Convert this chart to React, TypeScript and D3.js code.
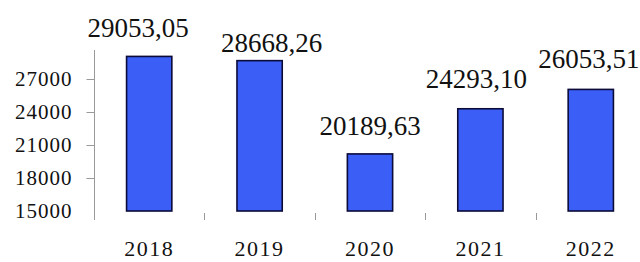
import React, { useEffect, useRef } from "react";
import * as d3 from "d3";

const years = ["2018", "2019", "2020", "2021", "2022"];
const values = [29053.05, 28668.26, 20189.63, 24293.1, 26053.51];
const valueLabels = ["29053,05", "28668,26", "20189,63", "24293,10", "26053,51"];
const yTicks = [15000, 18000, 21000, 24000, 27000];

// hand nudges for the value labels (they are not centred in the original)
const labelDx = [-11, 12, 0, -4, -2];
const labelGap = [19, 9, 19, 21, 21];

const W = 640;
const H = 262;
const font = "'Liberation Serif', 'Times New Roman', serif";

export default function App() {
  const ref = useRef<SVGSVGElement>(null);

  useEffect(() => {
    const svg = d3.select(ref.current);
    svg.selectAll("*").remove();

    const x = d3
      .scaleBand()
      .domain(years)
      .range([94, 646])
      .paddingInner(0.59)
      .paddingOuter(0.295);
    const y = d3.scaleLinear().domain([15000, 30000]).range([211, 46]);

    // y axis
    svg
      .append("line")
      .attr("x1", 94.5)
      .attr("x2", 94.5)
      .attr("y1", 50)
      .attr("y2", 220)
      .attr("stroke", "#999")
      .attr("stroke-width", 1);

    const yAxis = svg
      .append("g")
      .attr("transform", "translate(94.5,0)")
      .call(
        d3
          .axisLeft(y)
          .tickValues(yTicks)
          .tickSize(8)
          .tickPadding(14)
          .tickFormat(d3.format("d"))
      );
    yAxis.select(".domain").remove();
    yAxis
      .selectAll(".tick line")
      .attr("stroke", "#999")
      .attr("opacity", (d: any) => (d === 15000 ? 0 : 1));
    yAxis
      .selectAll(".tick text")
      .attr("font-family", font)
      .attr("font-size", 21)
      .attr("letter-spacing", 1)
      .attr("fill", "#111");

    // category boundary ticks
    const step = x.step();
    svg
      .selectAll("line.cat")
      .data(years.slice(1))
      .enter()
      .append("line")
      .attr("class", "cat")
      .attr("x1", (d) => Math.round((x(d) as number) - step * 0.295) + 0.5)
      .attr("x2", (d) => Math.round((x(d) as number) - step * 0.295) + 0.5)
      .attr("y1", 213)
      .attr("y2", 220)
      .attr("stroke", "#999");

    // bars
    svg
      .selectAll("rect.bar")
      .data(values)
      .enter()
      .append("rect")
      .attr("class", "bar")
      .attr("x", (d, i) => x(years[i]) as number)
      .attr("y", (d) => y(d))
      .attr("width", x.bandwidth())
      .attr("height", (d) => y(15000) - y(d))
      .attr("fill", "#3a5ef6")
      .attr("stroke", "#0b0b3a")
      .attr("stroke-width", 1.6);

    // value labels
    svg
      .selectAll("text.val")
      .data(values)
      .enter()
      .append("text")
      .attr("class", "val")
      .attr("x", (d, i) => (x(years[i]) as number) + x.bandwidth() / 2 + labelDx[i])
      .attr("y", (d, i) => y(d) - labelGap[i])
      .attr("text-anchor", "middle")
      .attr("font-family", font)
      .attr("font-size", 27)
      .attr("fill", "#111")
      .text((d, i) => valueLabels[i]);

    // year labels
    svg
      .selectAll("text.year")
      .data(years)
      .enter()
      .append("text")
      .attr("class", "year")
      .attr("x", (d) => (x(d) as number) + x.bandwidth() / 2)
      .attr("y", 256)
      .attr("text-anchor", "middle")
      .attr("font-family", font)
      .attr("font-size", 22)
      .attr("letter-spacing", 1.5)
      .attr("fill", "#111")
      .text((d) => d);
  }, []);

  return (
    <svg
      ref={ref}
      width={W}
      height={H}
      style={{ position: "absolute", left: 0, top: 0, background: "#fff" }}
    />
  );
}
